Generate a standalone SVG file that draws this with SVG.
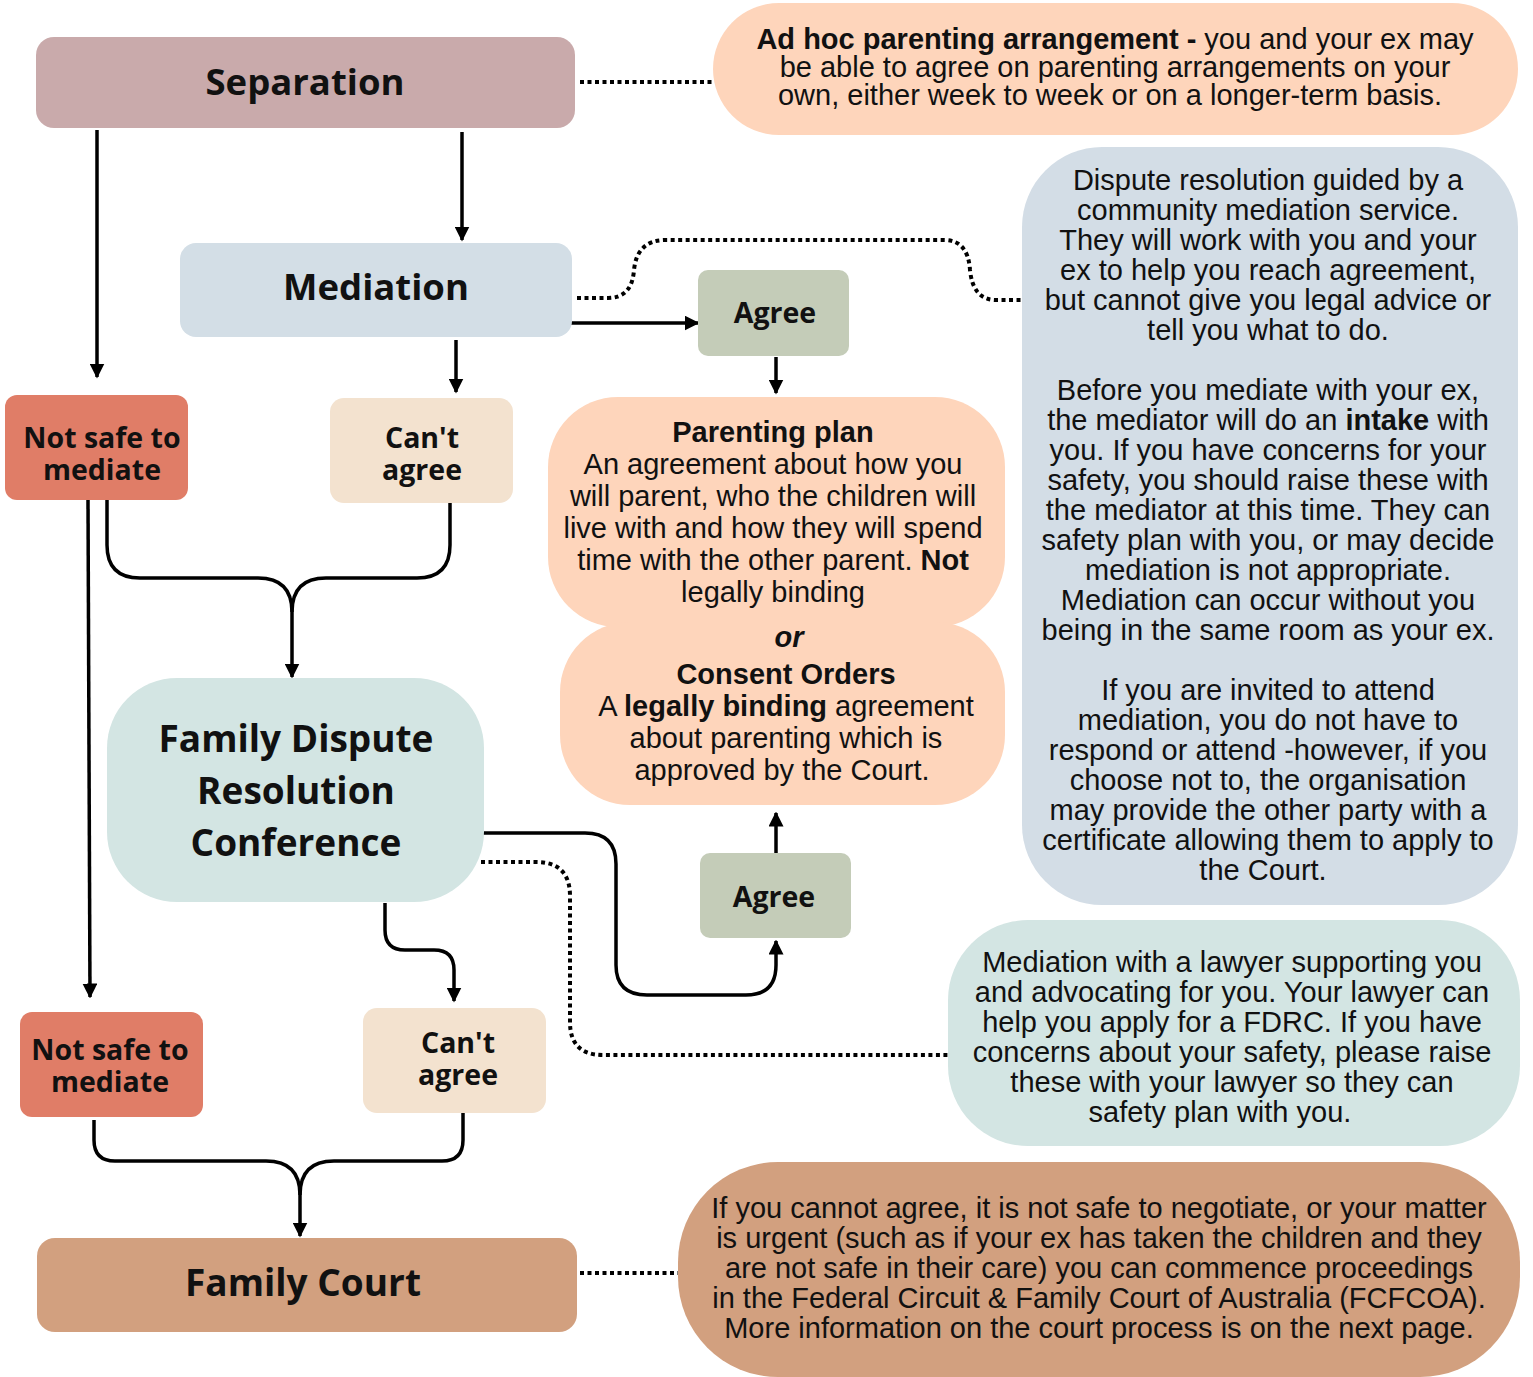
<svg xmlns="http://www.w3.org/2000/svg" width="1533" height="1377" viewBox="0 0 1533 1377">
<style>
.t{font-family:"Open Sans","Noto Sans",sans-serif;font-weight:bold;fill:#111;text-anchor:middle}
.b{font-family:"Liberation Sans",Arial,sans-serif;font-size:29px;fill:#111;text-anchor:middle}
.bb{font-weight:bold}
.ln{fill:none;stroke:#000;stroke-width:3.5}
.dt{fill:none;stroke:#000;stroke-width:4;stroke-dasharray:4 3.5}
</style>
<defs>
<marker id="ah" viewBox="0 0 10 10" refX="9" refY="5" markerUnits="userSpaceOnUse" markerWidth="15" markerHeight="15" orient="auto">
<path d="M0,0 L10,5 L0,10 z" fill="#000"/>
</marker>
</defs>
<rect width="1533" height="1377" fill="#fff"/>

<g id="connectors">
<line class="dt" x1="580" y1="82" x2="712" y2="82"/>
<path class="ln" d="M97,130 V377" marker-end="url(#ah)"/>
<path class="ln" d="M462,132 V240" marker-end="url(#ah)"/>
<path class="dt" d="M577,298 H608 Q632,298 634,270 Q637,240 666,240 H944 Q968,240 970,270 Q973,300 996,300 H1022"/>
<path class="ln" d="M568,323 H698" marker-end="url(#ah)"/>
<path class="ln" d="M776,357 V393" marker-end="url(#ah)"/>
<path class="ln" d="M456,340 V392" marker-end="url(#ah)"/>
<path class="ln" d="M107,500 V545 Q107,578 140,578 H258 Q292,578 292,612 V677" marker-end="url(#ah)"/>
<path class="ln" d="M450,503 V545 Q450,578 417,578 H326 Q292,578 292,612"/>
<path class="ln" d="M88,500 L90,997" marker-end="url(#ah)"/>
<path class="ln" d="M481,833 H585 Q616,833 616,864 V965 Q616,995 647,995 H746 Q776,995 776,965 V941" marker-end="url(#ah)"/>
<path class="ln" d="M776,853 V813" marker-end="url(#ah)"/>
<path class="dt" d="M481,862 H536 Q570,862 570,896 V1022 Q570,1055 603,1055 H948"/>
<path class="ln" d="M385,903 V930 Q385,950 405,950 H434 Q454,950 454,970 V1001" marker-end="url(#ah)"/>
<path class="ln" d="M94,1120 V1140 Q94,1161 115,1161 H266 Q300,1161 300,1195 V1236" marker-end="url(#ah)"/>
<path class="ln" d="M463,1113 V1140 Q463,1161 442,1161 H334 Q300,1161 300,1195"/>
<line class="dt" x1="580" y1="1273" x2="678" y2="1273"/>
</g>

<g id="separation">
<rect x="36" y="37" width="539" height="91" rx="18" fill="#c9aaab"/>
<text class="t" x="305" y="95" font-size="36.5">Separation</text>
</g>

<g id="adhoc">
<rect x="713" y="3" width="805" height="132" rx="66" fill="#fed5bb"/>
<text class="b" x="1115" y="49"><tspan class="bb">Ad hoc parenting arrangement -</tspan> you and your ex may</text>
<text class="b" x="1115" y="77">be able to agree on parenting arrangements on your</text>
<text class="b" x="1110" y="105">own, either week to week or on a longer-term basis.</text>
</g>

<g id="mediation">
<rect x="180" y="243" width="392" height="94" rx="16" fill="#d3dee6"/>
<text class="t" x="376" y="300" font-size="36.5">Mediation</text>
</g>

<g id="agree1">
<rect x="698" y="270" width="151" height="86" rx="10" fill="#c4ccb8"/>
<text class="t" x="775" y="323" font-size="28.5">Agree</text>
</g>

<g id="notsafe1">
<rect x="5" y="395" width="183" height="105" rx="12" fill="#e07d67"/>
<text class="t" x="102" y="448" font-size="28.5">Not safe to</text>
<text class="t" x="102" y="480" font-size="28.5">mediate</text>
</g>

<g id="cantagree1">
<rect x="330" y="398" width="183" height="105" rx="14" fill="#f3e2cf"/>
<text class="t" x="422" y="448" font-size="28.5">Can't</text>
<text class="t" x="422" y="480" font-size="28.5">agree</text>
</g>

<g id="parenting">
<rect x="548" y="397" width="457" height="230" rx="70" fill="#fed5bb"/>
<rect x="560" y="622" width="445" height="183" rx="70" fill="#fed5bb"/>
<text class="b" x="773" y="442"><tspan class="bb">Parenting plan</tspan></text>
<text class="b" x="773" y="474">An agreement about how you</text>
<text class="b" x="773" y="506">will parent, who the children will</text>
<text class="b" x="773" y="538">live with and how they will spend</text>
<text class="b" x="773" y="570">time with the other parent. <tspan class="bb">Not</tspan></text>
<text class="b" x="773" y="602">legally binding</text>
<text class="b" x="789" y="647" font-weight="bold" font-style="italic">or</text>
<text class="b" x="786" y="684"><tspan class="bb">Consent Orders</tspan></text>
<text class="b" x="786" y="716">A <tspan class="bb">legally binding</tspan> agreement</text>
<text class="b" x="786" y="748">about parenting which is</text>
<text class="b" x="782" y="780">approved by the Court.</text>
</g>

<g id="fdrc">
<rect x="107" y="678" width="377" height="224" rx="70" fill="#d3e5e3"/>
<text class="t" x="296" y="752" font-size="37">Family Dispute</text>
<text class="t" x="296" y="804" font-size="37">Resolution</text>
<text class="t" x="296" y="856" font-size="37">Conference</text>
</g>

<g id="agree2">
<rect x="700" y="853" width="151" height="85" rx="10" fill="#c4ccb8"/>
<text class="t" x="774" y="907" font-size="28.5">Agree</text>
</g>

<g id="notsafe2">
<rect x="20" y="1012" width="183" height="105" rx="12" fill="#e07d67"/>
<text class="t" x="110" y="1060" font-size="28.5">Not safe to</text>
<text class="t" x="110" y="1092" font-size="28.5">mediate</text>
</g>

<g id="cantagree2">
<rect x="363" y="1008" width="183" height="105" rx="14" fill="#f3e2cf"/>
<text class="t" x="458" y="1053" font-size="28.5">Can't</text>
<text class="t" x="458" y="1085" font-size="28.5">agree</text>
</g>

<g id="familycourt">
<rect x="37" y="1238" width="540" height="94" rx="18" fill="#d2a07f"/>
<text class="t" x="303" y="1296" font-size="37">Family Court</text>
</g>

<g id="mediationinfo">
<rect x="1022" y="147" width="496" height="758" rx="80" fill="#d3dde6"/>
<text class="b" x="1268" y="190">Dispute resolution guided by a</text>
<text class="b" x="1268" y="220">community mediation service.</text>
<text class="b" x="1268" y="250">They will work with you and your</text>
<text class="b" x="1268" y="280">ex to help you reach agreement,</text>
<text class="b" x="1268" y="310">but cannot give you legal advice or</text>
<text class="b" x="1268" y="340">tell you what to do.</text>
<text class="b" x="1268" y="400">Before you mediate with your ex,</text>
<text class="b" x="1268" y="430">the mediator will do an <tspan class="bb">intake</tspan> with</text>
<text class="b" x="1268" y="460">you. If you have concerns for your</text>
<text class="b" x="1268" y="490">safety, you should raise these with</text>
<text class="b" x="1268" y="520">the mediator at this time. They can</text>
<text class="b" x="1268" y="550">safety plan with you, or may decide</text>
<text class="b" x="1268" y="580">mediation is not appropriate.</text>
<text class="b" x="1268" y="610">Mediation can occur without you</text>
<text class="b" x="1268" y="640">being in the same room as your ex.</text>
<text class="b" x="1268" y="700">If you are invited to attend</text>
<text class="b" x="1268" y="730">mediation, you do not have to</text>
<text class="b" x="1268" y="760">respond or attend -however, if you</text>
<text class="b" x="1268" y="790">choose not to, the organisation</text>
<text class="b" x="1268" y="820">may provide the other party with a</text>
<text class="b" x="1268" y="850">certificate allowing them to apply to</text>
<text class="b" x="1263" y="880">the Court.</text>
</g>

<g id="lawyerinfo">
<rect x="948" y="920" width="572" height="226" rx="80" fill="#d3e5e3"/>
<text class="b" x="1232" y="972">Mediation with a lawyer supporting you</text>
<text class="b" x="1232" y="1002">and advocating for you. Your lawyer can</text>
<text class="b" x="1232" y="1032">help you apply for a FDRC.  If you have</text>
<text class="b" x="1232" y="1062">concerns about your safety, please raise</text>
<text class="b" x="1232" y="1092">these with your lawyer so they can</text>
<text class="b" x="1220" y="1122">safety plan with you.</text>
</g>

<g id="courtinfo">
<rect x="678" y="1162" width="842" height="215" rx="100" fill="#d2a07f"/>
<text class="b" x="1099" y="1218">If you cannot agree, it is not safe to negotiate, or your matter</text>
<text class="b" x="1099" y="1248">is urgent (such as if your ex has taken the children and they</text>
<text class="b" x="1099" y="1278">are not safe in their care) you can commence proceedings</text>
<text class="b" x="1099" y="1308">in the Federal Circuit &amp; Family Court of Australia (FCFCOA).</text>
<text class="b" x="1099" y="1338">More information on the court process is on the next page.</text>
</g>
</svg>
